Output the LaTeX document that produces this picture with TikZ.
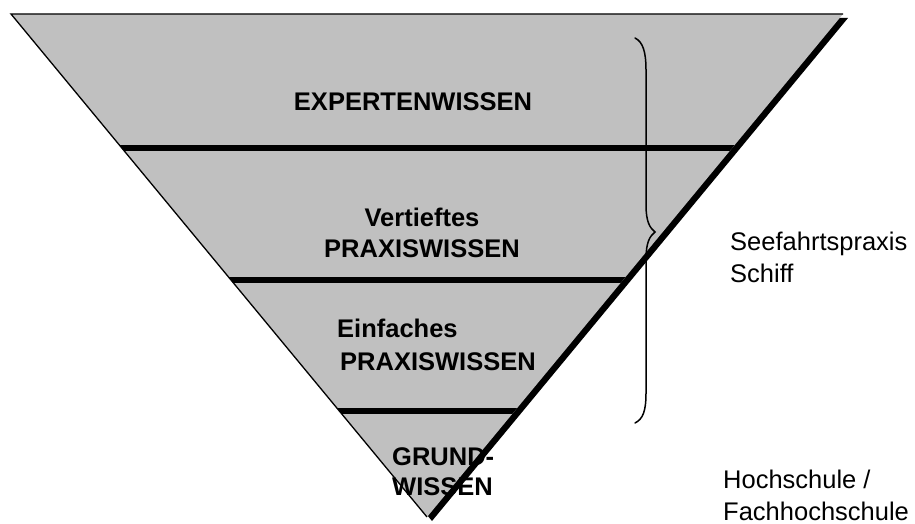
\documentclass[tikz,border=0pt]{standalone}
\usepackage{fontspec}
\setmainfont{Liberation Sans}
\definecolor{layergray}{HTML}{C0C0C0}
\begin{document}
\begin{tikzpicture}[x=1pt,y=-1pt,
  lbl/.style={inner sep=0pt, font=\fontsize{25.5}{30}\selectfont\bfseries},
  side/.style={inner sep=0pt, anchor=base west, font=\fontsize{25.5}{30}\selectfont},
  divider/.style={line width=6pt},
  edge/.style={line width=1.3pt, line join=miter}]
\useasboundingbox (0,0) rectangle (915,524);
% corners
\coordinate (tl) at (11,14);
\coordinate (tr) at (843,14);
\coordinate (ap) at (427,517);
% shadow
\fill[black] ([shift={(5,4)}]tl) -- ([shift={(5,4)}]tr) -- ([shift={(5,4)}]ap) -- cycle;
% triangle
\fill[layergray] (tl) -- (tr) -- (ap) -- cycle;
% dividers
\begin{scope}
\clip (tl) -- (tr) -- (ap) -- cycle;
\coordinate (d1l) at (0,148); \coordinate (d1r) at (900,148);
\coordinate (d2l) at (0,280); \coordinate (d2r) at (900,280);
\coordinate (d3l) at (0,411); \coordinate (d3r) at (900,411);
\draw[divider] (d1l) -- (d1r);
\draw[divider] (d2l) -- (d2r);
\draw[divider] (d3l) -- (d3r);
\end{scope}
\draw[edge] (ap) -- (tl) -- (tr);
% labels
\node[lbl, anchor=base] (l1) at (413,111) {EXPERTENWISSEN};
\node[lbl, anchor=base] (l2a) at (422,226) {Vertieftes};
\node[lbl, anchor=base] (l2b) at (422,257) {PRAXISWISSEN};
\node[lbl, anchor=base west] (l3a) at (337,337) {Einfaches};
\node[lbl, anchor=base west] (l3b) at (340,370) {PRAXISWISSEN};
\node[lbl, anchor=base west] (l4a) at (392,465) {GRUND-};
\node[lbl, anchor=base west] (l4b) at (392,495) {WISSEN};
% brace
\coordinate (bt) at (635,38);
\coordinate (bm) at (655,232);
\coordinate (bb) at (635,423);
\draw[line width=1.5pt, line cap=round] (bt) .. controls (643,42) and (646,52) .. (646,70)
  -- (646,205) .. controls (646,222) and (650,228) .. (bm)
  .. controls (650,236) and (646,242) .. (646,259)
  -- (646,393) .. controls (646,411) and (643,419) .. (bb);
% side texts
\node[side] (s1) at (730,250) {Seefahrtspraxis};
\node[side] (s2) at (730,282) {Schiff};
\node[side] (h1) at (723,488) {Hochschule /};
\node[side] (h2) at (723,520) {Fachhochschule};
\end{tikzpicture}
\end{document}
